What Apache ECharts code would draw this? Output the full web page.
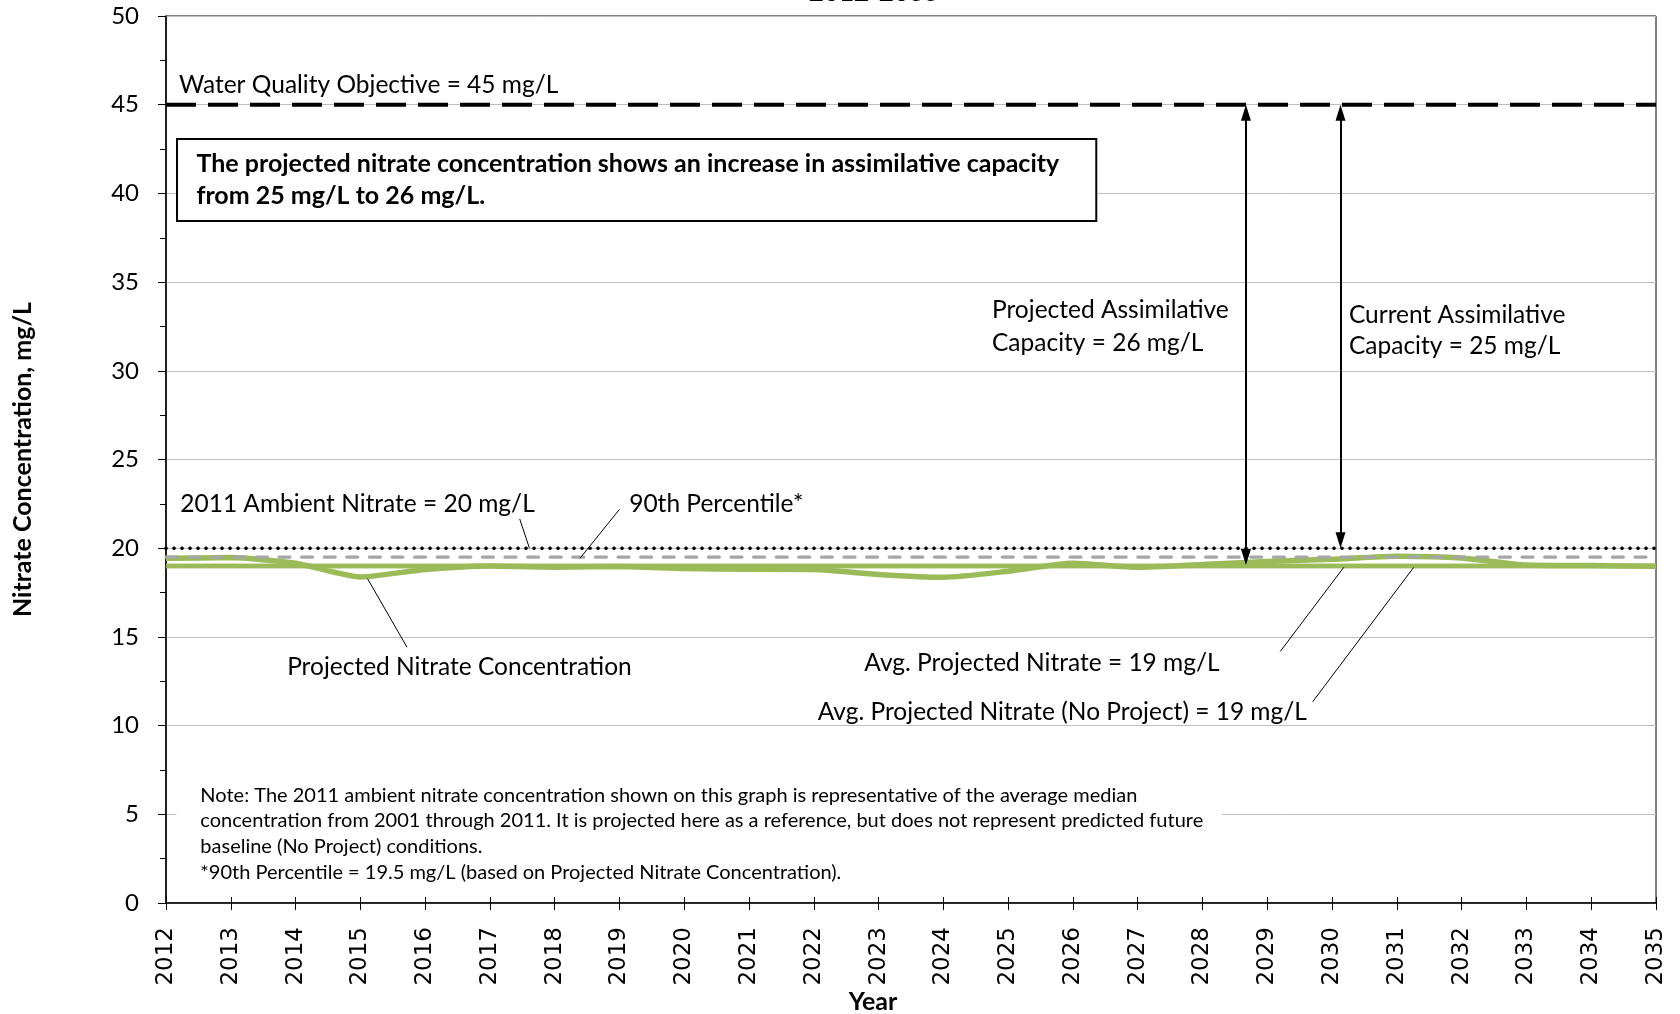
<!DOCTYPE html>
<html>
<head>
<meta charset="utf-8">
<script src="https://cdn.jsdelivr.net/npm/echarts@6/dist/echarts.min.js"></script>
<style>
  html, body { margin: 0; padding: 0; background: #fff; }
  #chart { width: 1680px; height: 1014px; }
</style>
</head>
<body>
<div id="chart"></div>
<script>
const years = [2012, 2013, 2014, 2015, 2016, 2017, 2018, 2019, 2020, 2021, 2022, 2023,
               2024, 2025, 2026, 2027, 2028, 2029, 2030, 2031, 2032, 2033, 2034, 2035];
const projectedNitrate = [19.43, 19.47, 19.15, 18.38, 18.8, 19.0, 18.93, 18.97, 18.85, 18.82, 18.8, 18.52,
                          18.36, 18.7, 19.15, 18.92, 19.08, 19.25, 19.38, 19.55, 19.45, 19.05, 19.02, 18.98];
const waterQualityObjective = 45;
const ambientNitrate2011 = 20;
const percentile90 = 19.5;
const avgProjected = 19.0;
const avgNoProject = 19.0;

const FONT = 'Lato';
const green = '#9BBB59';
const flat = v => [[years[0], v], [years[years.length - 1], v]];

const chart = echarts.init(document.getElementById('chart'), null, { renderer: 'canvas' });

chart.setOption({
  animation: false,
  backgroundColor: '#fff',
  grid: { left: 166, right: 24, top: 16, bottom: 111, show: true, borderColor: '#000', borderWidth: 1,
          containLabel: false, outerBoundsMode: 'none' },
  xAxis: [
    {
      type: 'value', min: 2012, max: 2035, interval: 1,
      axisLine: { lineStyle: { color: '#000', width: 1.5 } },
      axisTick: { length: 7, lineStyle: { color: '#000' } },
      axisLabel: { rotate: 90, margin: 24, color: '#000', fontFamily: "'DejaVu Sans', Verdana, sans-serif", fontSize: 23,
                   formatter: v => String(v) },
      splitLine: { show: false }
    },
    {
      type: 'value', min: 2012, max: 2035, interval: 1, position: 'bottom',
      axisLine: { show: false },
      axisTick: { inside: true, length: 6, lineStyle: { color: '#000' } },
      axisLabel: { show: false },
      splitLine: { show: false }
    }
  ],
  yAxis: {
    type: 'value', min: 0, max: 50, interval: 5,
    name: 'Nitrate Concentration, mg/L', nameLocation: 'middle', nameGap: 131, nameRotate: 90,
    nameTextStyle: { fontFamily: FONT, fontWeight: 'bold', fontSize: 25, color: '#000' },
    axisLine: { show: true, lineStyle: { color: '#000', width: 1.5 } },
    axisTick: { show: true, length: 8, lineStyle: { color: '#000' } },
    minorTick: { show: true, splitNumber: 2, length: 6, lineStyle: { color: '#000' } },
    axisLabel: { margin: 27, color: '#000', fontFamily: FONT, fontSize: 24 },
    splitLine: { lineStyle: { color: '#BFBFBF', width: 1 } }
  },
  series: [
    { name: 'Avg. Projected Nitrate (No Project)', type: 'line', data: flat(avgNoProject), symbol: 'none',
      lineStyle: { color: green, width: 4.5 } },
    { name: 'Avg. Projected Nitrate', type: 'line', data: flat(avgProjected), symbol: 'none',
      lineStyle: { color: green, width: 4.5 } },
    { name: 'Projected Nitrate Concentration', type: 'line', smooth: 0.2,
      data: years.map((y, i) => [y, projectedNitrate[i]]), symbol: 'none',
      lineStyle: { color: green, width: 5.5 } },
    { name: '90th Percentile', type: 'line', data: flat(percentile90), symbol: 'none',
      lineStyle: { color: '#A6A6A6', width: 3.2, type: [11, 11.6], cap: 'round' } },
    { name: '2011 Ambient Nitrate', type: 'line', data: flat(ambientNitrate2011), symbol: 'none',
      lineStyle: { color: '#000', width: 3.6, type: [0.1, 7.9], cap: 'round' } },
    { name: 'Water Quality Objective', type: 'line', data: flat(waterQualityObjective), symbol: 'none',
      lineStyle: { color: '#000', width: 4, type: [30, 12] } },
    { name: 'arrows', type: 'line', data: [], silent: true,
      markLine: {
        silent: true, animation: false, symbol: ['triangle', 'triangle'], symbolSize: [10, 16],
        label: { show: false }, lineStyle: { color: '#000', width: 2, type: 'solid' },
        emphasis: { disabled: true },
        data: [
          [{ coord: [2028.67, 44.55] }, { coord: [2028.67, 19.5] }],
          [{ coord: [2030.13, 44.55] }, { coord: [2030.13, 20.45] }]
        ]
      } },
    { name: 'leaders', type: 'line', data: [], silent: true,
      markLine: {
        silent: true, animation: false, symbol: ['none', 'none'],
        label: { show: false }, lineStyle: { color: '#000', width: 1, type: 'solid' },
        emphasis: { disabled: true },
        data: [
          [{ coord: [2017.46, 21.65] }, { coord: [2017.61, 20.0] }],
          [{ coord: [2019.0, 22.19] }, { coord: [2018.39, 19.43] }],
          [{ coord: [2015.11, 18.29] }, { coord: [2015.72, 14.42] }],
          [{ coord: [2030.18, 18.92] }, { coord: [2029.2, 14.18] }],
          [{ coord: [2031.26, 18.92] }, { coord: [2029.7, 11.34] }]
        ]
      } }
  ]
});

const px = (x, y) => chart.convertToPixel({ gridIndex: 0 }, [x, y]);

function label(text, x, y, opts) {
  const p = px(x, y);
  return {
    type: 'text', x: p[0], y: p[1], z: 120, silent: true,
    style: Object.assign({
      text: text, fill: '#000', font: '24.5px ' + FONT,
      textAlign: 'left', textVerticalAlign: 'middle', align: 'left', verticalAlign: 'middle'
    }, opts || {})
  };
}

const boxA = px(2012.17, 43.07), boxB = px(2026.36, 38.44);
const noteA = px(2012.16, 6.95), noteB = px(2028.3, 0.95);

chart.setOption({
  graphic: [
    { type: 'text', x: 874, y: 6, silent: true,
      style: { text: '2012-2035', fill: '#000', font: 'bold 26px ' + FONT,
               textAlign: 'center', textVerticalAlign: 'bottom', align: 'center', verticalAlign: 'bottom' } },
    { type: 'text', x: 873, y: 1002, silent: true,
      style: { text: 'Year', fill: '#000', font: 'bold 25px ' + FONT,
               textAlign: 'center', textVerticalAlign: 'middle', align: 'center', verticalAlign: 'middle' } },
    { type: 'rect', z: 110, silent: true,
      shape: { x: boxA[0], y: boxA[1], width: boxB[0] - boxA[0], height: boxB[1] - boxA[1] },
      style: { fill: '#fff', stroke: '#000', lineWidth: 2 } },
    label('The projected nitrate concentration shows an increase in assimilative capacity\nfrom 25 mg/L to 26 mg/L.',
          2012.47, 40.76, { font: 'bold 25px ' + FONT, lineHeight: 32 }),
    { type: 'rect', z: 110, silent: true,
      shape: { x: noteA[0], y: noteA[1], width: noteB[0] - noteA[0], height: noteB[1] - noteA[1] },
      style: { fill: '#fff' } },
    label('Note: The 2011 ambient nitrate concentration shown on this graph is representative of the average median\n' +
          'concentration from 2001 through 2011. It is projected here as a reference, but does not represent predicted future\n' +
          'baseline (No Project) conditions.\n' +
          '*90th Percentile = 19.5 mg/L (based on Projected Nitrate Concentration).',
          2012.53, 3.91, { font: '20px ' + FONT, lineHeight: 25.7 }),
    label('Water Quality Objective = 45 mg/L', 2012.2, 46.13),
    label('Projected Assimilative\nCapacity = 26 mg/L', 2024.75, 32.5, { lineHeight: 33 }),
    label('Current Assimilative\nCapacity = 25 mg/L', 2030.26, 32.27, { lineHeight: 31 }),
    label('2011 Ambient Nitrate = 20 mg/L', 2012.22, 22.51),
    label('90th Percentile*', 2019.15, 22.51),
    label('Projected Nitrate Concentration', 2013.87, 13.27),
    label('Avg. Projected Nitrate = 19 mg/L', 2022.78, 13.52),
    label('Avg. Projected Nitrate (No Project) = 19 mg/L', 2022.06, 10.74)
  ]
});
</script>
</body>
</html>
